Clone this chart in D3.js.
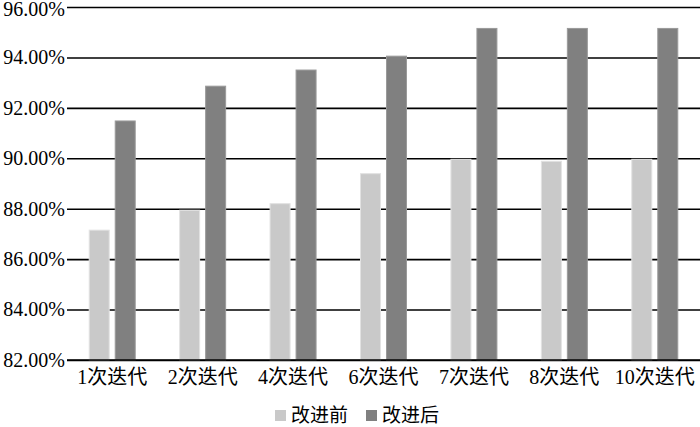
<!DOCTYPE html>
<html>
<head>
<meta charset="utf-8">
<style>
    body, html { margin: 0; padding: 0; background: #fff; }
    svg { display: block; }
    text { font-family: "Liberation Serif", "Noto Sans CJK SC", serif; fill: #000; }
</style>
</head>
<body>
<svg width="700" height="427"></svg>
<script src="https://cdn.jsdelivr.net/npm/d3@7"></script>
<script>
    var categories = ["1次迭代", "2次迭代", "4次迭代", "6次迭代", "7次迭代", "8次迭代", "10次迭代"];
    var series = ["改进前", "改进后"];
    var before = [87.15, 87.94, 88.2, 89.39, 89.96, 89.88, 89.96];
    var after = [91.48, 92.86, 93.5, 94.05, 95.15, 95.15, 95.15];
    var yTicks = [82, 84, 86, 88, 90, 92, 94, 96];
    var colors = ["#c9c9c9", "#808080"];

    var svg = d3.select("svg");
    var plotLeft = 67, plotRight = 700, plotTop = 7, plotBottom = 360;

    var x0 = d3.scaleBand().domain(categories).range([plotLeft, plotRight]);
    var bw = x0.bandwidth();
    var x1 = d3.scaleBand().domain(series)
        .range([bw / 2 - 23, bw / 2 + 23])
        .paddingInner(6 / 26);
    var y = d3.scaleLinear().domain([82, 96]).range([plotBottom, plotTop]);

    // gridlines + y labels
    var yAxis = d3.axisLeft(y)
        .tickValues(yTicks)
        .tickSize(-(plotRight - plotLeft))
        .tickPadding(3)
        .tickFormat(function(d) { return d.toFixed(2) + "%"; });

    var gy = svg.append("g")
        .attr("transform", "translate(" + plotLeft + ",0)")
        .call(yAxis);
    gy.select(".domain").remove();
    gy.selectAll(".tick line").attr("stroke", "#000").attr("stroke-width", 1.6);
    gy.selectAll(".tick text")
        .attr("font-size", 20)
        .attr("x", -2)
        .attr("dy", function(d) { return d === 96 ? "0.42em" : "0.32em"; })
        .style("font-family", "'Liberation Serif', serif");

    // bars
    var rows = categories.map(function(c, i) {
        return { cat: c, vals: [before[i], after[i]] };
    });

    var groups = svg.append("g").selectAll("g")
        .data(rows)
        .join("g")
        .attr("transform", function(d) { return "translate(" + x0(d.cat) + ",0)"; });

    groups.selectAll("rect")
        .data(function(d) { return d.vals.map(function(v, j) { return { s: series[j], v: v, j: j }; }); })
        .join("rect")
        .attr("x", function(d) { return x1(d.s); })
        .attr("width", x1.bandwidth())
        .attr("y", function(d) { return y(d.v); })
        .attr("height", function(d) { return y(82) - y(d.v); })
        .attr("fill", function(d) { return colors[d.j]; })
        .attr("stroke", function(d) { return d.j ? "#9a9a9a" : "#e2e2e2"; })
        .attr("stroke-width", 1);

    // bottom axis line
    svg.append("line")
        .attr("x1", plotLeft).attr("x2", plotRight)
        .attr("y1", y(82)).attr("y2", y(82))
        .attr("stroke", "#000").attr("stroke-width", 1.6);

    // x labels
    var xAxis = d3.axisBottom(x0).tickSize(0).tickPadding(10);
    var gx = svg.append("g")
        .attr("transform", "translate(0," + plotBottom + ")")
        .call(xAxis);
    gx.select(".domain").remove();
    gx.selectAll(".tick text").attr("font-size", 20)
        .style("font-family", "'Liberation Serif', 'Noto Sans CJK SC', serif");

    // legend
    var legendX = [275, 366];
    var legend = svg.append("g").selectAll("g")
        .data(series)
        .join("g")
        .attr("transform", function(d, i) { return "translate(" + legendX[i] + ",410)"; });
    legend.append("rect")
        .attr("width", 11).attr("height", 11)
        .attr("fill", function(d, i) { return colors[i]; });
    legend.append("text")
        .attr("x", 16).attr("y", 5)
        .attr("dy", "0.35em")
        .attr("font-size", 19)
        .style("font-family", "'Noto Sans CJK SC', sans-serif")
        .text(function(d) { return d; });
</script>
</body>
</html>
